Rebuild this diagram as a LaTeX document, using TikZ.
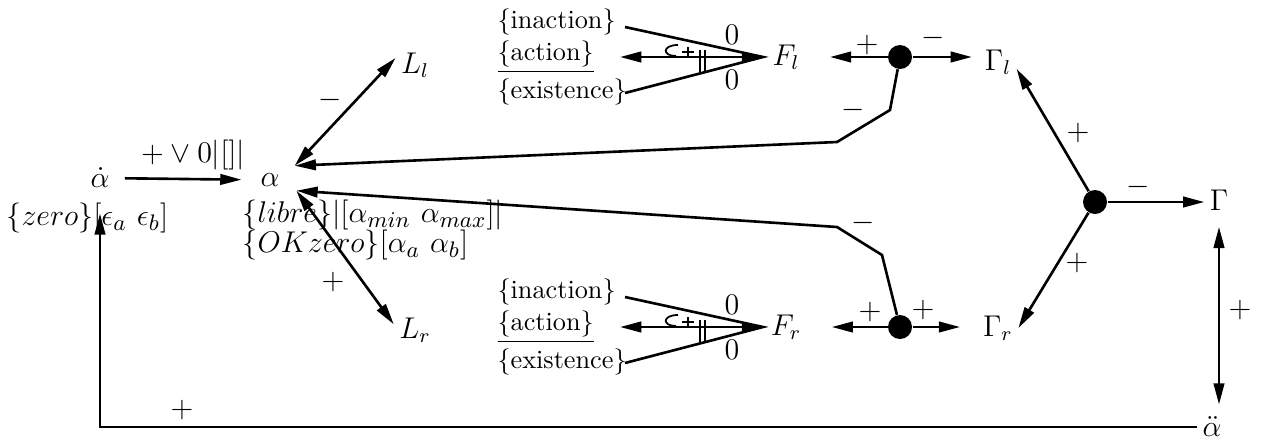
\documentclass[tikz,border=0pt]{standalone}
\usepackage{amsmath,amssymb}
\usetikzlibrary{arrows.meta, positioning, calc}
\tikzset{
    sym/.style={inner sep=2pt, font=\fontsize{11.5}{13}\selectfont},
    mathrow/.style={inner sep=0pt, anchor=west, font=\fontsize{12.5}{14}\selectfont},
    word/.style={inner sep=0pt, anchor=west, font=\fontsize{10.5}{12}\selectfont},
    sign/.style={inner sep=0pt, font=\fontsize{11.5}{13}\selectfont},
    junction/.style={circle, fill=black, inner sep=0pt, minimum size=9.6pt},
    hub/.style={circle, inner sep=0pt, minimum size=22.4pt},
    arrow/.style={-{Triangle[length=8.5pt,width=4.2pt]}, line width=1.05pt},
    biarrow/.style={{Triangle[length=8.5pt,width=4.2pt]}-{Triangle[length=8.5pt,width=4.2pt]}, line width=1.05pt},
    plain/.style={line width=1.05pt},
    thinline/.style={line width=0.7pt}
}
\begin{document}
\begin{tikzpicture}[x=0.4pt, y=-0.4pt]
    \useasboundingbox (0,0) rectangle (1261,441);
    % left part
    \node[sym] (adot) at (100,178) {$\dot{\alpha}$};
    \node[mathrow] (zero) at (6,218) {$\{zero\}[\epsilon_a\ \epsilon_b]$};
    \node[sym, hub] (alpha) at (270,180) {$\alpha$};
    \node[mathrow] (libre) at (242,215) {$\{libre\}|[\alpha_{min}\ \alpha_{max}]|$};
    \node[mathrow] (okzero) at (242,245) {$\{OKzero\}[\alpha_a\ \alpha_b]$};
    \node[sym] (Ll) at (415,65) {$L_l$};
    \node[sym] (Lr) at (415,330) {$L_r$};
    % the two fans
    \foreach \side/\yy in {l/57, r/327} {
        \node[word] (inact\side) at (497,{\yy-35}) {\{inaction\}};
        \node[word] (act\side) at (497,\yy) {\underline{\{action\}}};
        \node[word] (exist\side) at (497,{\yy+35}) {\{existence\}};
        \node[sym] (F\side) at (786,\yy) {$F_\side$};
        \coordinate (apex\side) at (763,\yy);
        \coordinate (tip\side) at (620,\yy);
        \draw[plain] (625,{\yy-30}) -- (apex\side) -- (625,{\yy+36});
        \draw[biarrow] (apex\side) -- (tip\side);
        \node[sign] (zt\side) at (732,{\yy-22}) {$0$};
        \node[sign] (zb\side) at (732,{\yy+23}) {$0$};
        \draw[thinline] (678,{\yy-12}) .. controls (662,{\yy-12}) and (662,{\yy-1}) .. (676,{\yy-1});
        \draw[thinline] (682,{\yy-5}) -- (694,{\yy-5});
        \draw[thinline] (688,{\yy-10}) -- (688,{\yy});
        \draw[thinline] (700,{\yy-7}) -- (700,{\yy+15});
        \draw[thinline] (705,{\yy-7}) -- (705,{\yy+14});
    }
    % junctions and outputs
    \node[junction] (dotl) at (900,57) {};
    \node[junction] (dotr) at (900,327) {};
    \node[junction] (dotc) at (1095,202) {};
    \node[sym] (Gl) at (998,62) {$\Gamma_l$};
    \node[sym] (Gr) at (998,328) {$\Gamma_r$};
    \node[sym] (G) at (1219,200) {$\Gamma$};
    \node[sym] (addot) at (1212,427) {$\ddot{\alpha}$};
    % connectors
    \draw[arrow, shorten <=4pt] (adot) -- (alpha);
    \draw[biarrow] (alpha.30) -- (Ll.160);
    \draw[biarrow] (alpha.-22) -- (Lr.165);
    \draw[arrow] (dotl) -- (890,110) -- (837,142) -- (alpha.30);
    \draw[arrow] (dotr) -- (882,255) -- (837,227) -- (alpha.-22);
    \draw[arrow, shorten >=10pt] (dotl) -- (Fl);
    \draw[arrow, shorten >=3pt] (dotl) -- (dotl -| Gl.west);
    \draw[arrow, shorten >=10pt] (dotr) -- (Fr);
    \draw[arrow, shorten >=7pt] (dotr) -- (dotr -| Gr.west);
    \draw[arrow] (dotc) -- (Gl.-20);
    \draw[arrow] (dotc) -- (Gr.east);
    \draw[arrow] (dotc) -- (dotc -| G.west);
    \draw[biarrow, shorten <=4.4pt, shorten >=2.8pt] (G) -- (G |- addot.north);
    \draw[arrow, shorten >=8pt] (addot.west) -- (adot |- addot.west) -- (adot);
    % signs
    \node[sign] (sdot) at (193,155) {$+\vee 0|[]|$};
    \node[sign] (sLl) at (330,100) {$-$};
    \node[sign] (sLr) at (333,282) {$+$};
    \node[sign] (supper) at (853,110) {$-$};
    \node[sign] (slower) at (863,223) {$-$};
    \node[sign] (sFl) at (867,45) {$+$};
    \node[sign] (sGl) at (933,38) {$-$};
    \node[sign] (sFr) at (870,312) {$+$};
    \node[sign] (sGr) at (923,310) {$+$};
    \node[sign] (scl) at (1078,133) {$+$};
    \node[sign] (scr) at (1077,263) {$+$};
    \node[sign] (sc) at (1138,187) {$-$};
    \node[sign] (svert) at (1240,310) {$+$};
    \node[sign] (sfeed) at (182,410) {$+$};
\end{tikzpicture}
\end{document}
